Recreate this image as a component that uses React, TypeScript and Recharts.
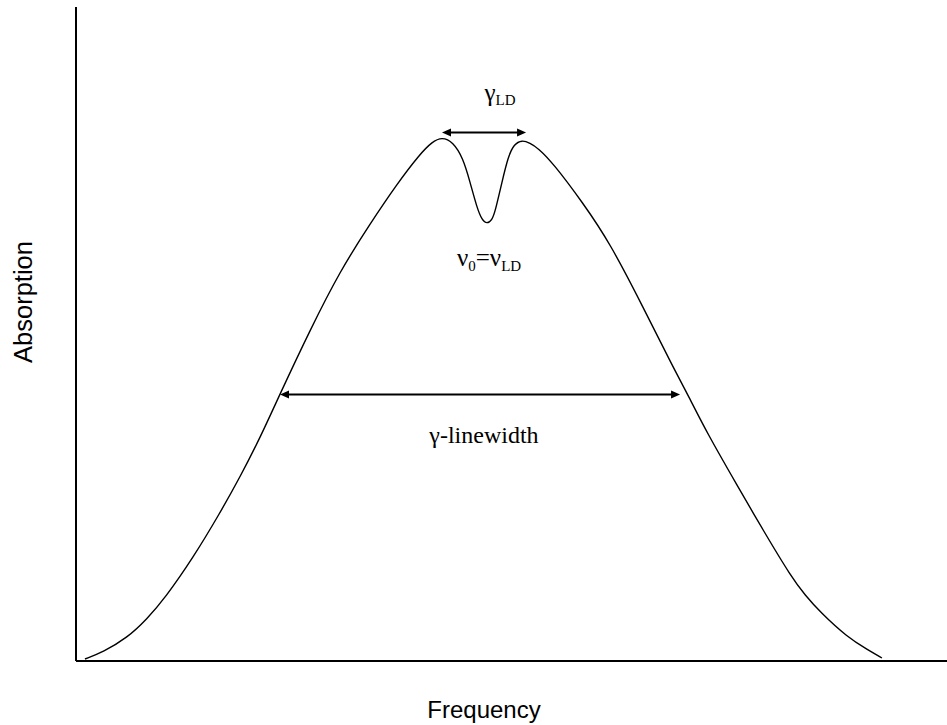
import { LineChart, Line, XAxis, YAxis, ReferenceLine, ReferenceDot } from "recharts";

// Absorption profile with the Lamb dip at line centre (arbitrary units, 0-100)
const frequency = [
  1.03, 3.1, 5.86, 8.15, 10.22, 13.43, 16.53, 18.83, 21.13, 23.42, 26.87, 30.31, 33.75,
  36.85, 39.49, 40.87, 42.02, 43.28, 44.43, 45.24, 46.04, 46.61, 47.19, 47.76, 48.11,
  48.91, 49.6, 50.29, 51.21, 52.12, 53.04, 54.76, 58.21, 61.31, 65.1, 68.54, 70.15,
  72.45, 75.89, 78.87, 82.2, 83.7, 85.42, 88.52, 90.93, 92.53,
];
const absorption = [
  0.31, 1.38, 3.52, 6.42, 9.63, 15.75, 22.63, 28.13, 34.1, 40.83, 50.61, 59.63, 66.82,
  72.94, 77.52, 79.36, 80.12, 79.36, 76.91, 73.24, 69.27, 67.43, 66.82, 67.43, 68.65,
  73.24, 77.06, 79.05, 79.66, 79.2, 78.44, 76.15, 70.03, 63.91, 54.13, 44.95, 40.98,
  34.86, 26.91, 20.03, 12.69, 10.09, 7.49, 3.67, 1.68, 0.46,
];

// width markers: [from, to] in frequency, drawn at the given absorption level
const dipWidth = [42.02, 51.67];
const dipWidthLevel = 80.81;
const fullWidth = [23.42, 69.35];
const fullWidthLevel = 40.75;

// label anchors [frequency, absorption]
const dipWidthLabelAt = [48.68, 85.63];
const lineCentreLabelAt = [47.42, 60.4];
const fullWidthLabelAt = [46.84, 33.33];

const profile = frequency.map((f, i) => ({ f, a: absorption[i] }));

const serif = "'Liberation Serif', 'Times New Roman', serif";
const sans = "'Liberation Sans', Arial, sans-serif";

const DoubleArrow = (props: any) => {
  const { x1, y1, x2, y2 } = props;
  const head = 9;
  const half = 4;
  return (
    <g>
      <line x1={x1 + head - 1} y1={y1} x2={x2 - head + 1} y2={y2} stroke="#000" strokeWidth={2} />
      <polygon points={`${x1},${y1} ${x1 + head},${y1 - half} ${x1 + head},${y1 + half}`} fill="#000" />
      <polygon points={`${x2},${y2} ${x2 - head},${y2 - half} ${x2 - head},${y2 + half}`} fill="#000" />
    </g>
  );
};

const GammaLD = ({ viewBox }: any) => (
  <text x={viewBox.x} y={viewBox.y} textAnchor="middle" fontFamily={serif} fill="#000">
    <tspan fontSize={25}>γ</tspan>
    <tspan fontSize={15} dy={4}>LD</tspan>
  </text>
);

const NuLabel = ({ viewBox }: any) => (
  <text x={viewBox.x} y={viewBox.y} textAnchor="middle" fontFamily={serif} fill="#000">
    <tspan fontSize={25}>ν</tspan>
    <tspan fontSize={15} dy={5}>0</tspan>
    <tspan fontSize={25} dy={-5}>=ν</tspan>
    <tspan fontSize={15} dy={5}>LD</tspan>
  </text>
);

const LinewidthLabel = ({ viewBox }: any) => (
  <text x={viewBox.x} y={viewBox.y} textAnchor="middle" fontFamily={serif} fontSize={24} fill="#000">
    γ-linewidth
  </text>
);

const FrequencyTitle = ({ viewBox }: any) => (
  <text x={viewBox.x + 408} y={viewBox.y + 57} textAnchor="middle" fontFamily={sans} fontSize={24} fill="#000">
    Frequency
  </text>
);

const AbsorptionTitle = ({ viewBox }: any) => {
  const x = viewBox.x + 32;
  const y = viewBox.y + 295;
  return (
    <text x={x} y={y} transform={`rotate(-90 ${x} ${y})`} textAnchor="middle" fontFamily={sans} fontSize={25.5} fill="#000">
      Absorption
    </text>
  );
};

export default function App() {
  return (
    <div style={{ position: "absolute", left: 0, top: 0, width: 947, height: 725, background: "#fff" }}>
      <LineChart width={947} height={725} data={profile} margin={{ top: 7, right: 0, bottom: 0, left: 0 }}>
        <XAxis
          dataKey="f"
          type="number"
          domain={[0, 100]}
          height={64}
          tick={false}
          tickLine={false}
          axisLine={{ stroke: "#000", strokeWidth: 2 }}
          label={{ content: FrequencyTitle }}
        />
        <YAxis
          type="number"
          domain={[0, 100]}
          width={76}
          tick={false}
          tickLine={false}
          axisLine={{ stroke: "#000", strokeWidth: 2 }}
          label={{ content: AbsorptionTitle }}
        />
        <Line
          type="basis"
          dataKey="a"
          stroke="#000"
          strokeWidth={1.4}
          dot={false}
          activeDot={false}
          isAnimationActive={false}
        />
        <ReferenceLine
          segment={[
            { x: dipWidth[0], y: dipWidthLevel },
            { x: dipWidth[1], y: dipWidthLevel },
          ]}
          shape={DoubleArrow}
        />
        <ReferenceLine
          segment={[
            { x: fullWidth[0], y: fullWidthLevel },
            { x: fullWidth[1], y: fullWidthLevel },
          ]}
          shape={DoubleArrow}
        />
        <ReferenceDot x={dipWidthLabelAt[0]} y={dipWidthLabelAt[1]} r={0} fill="none" stroke="none" label={{ content: GammaLD }} />
        <ReferenceDot x={lineCentreLabelAt[0]} y={lineCentreLabelAt[1]} r={0} fill="none" stroke="none" label={{ content: NuLabel }} />
        <ReferenceDot x={fullWidthLabelAt[0]} y={fullWidthLabelAt[1]} r={0} fill="none" stroke="none" label={{ content: LinewidthLabel }} />
      </LineChart>
    </div>
  );
}
